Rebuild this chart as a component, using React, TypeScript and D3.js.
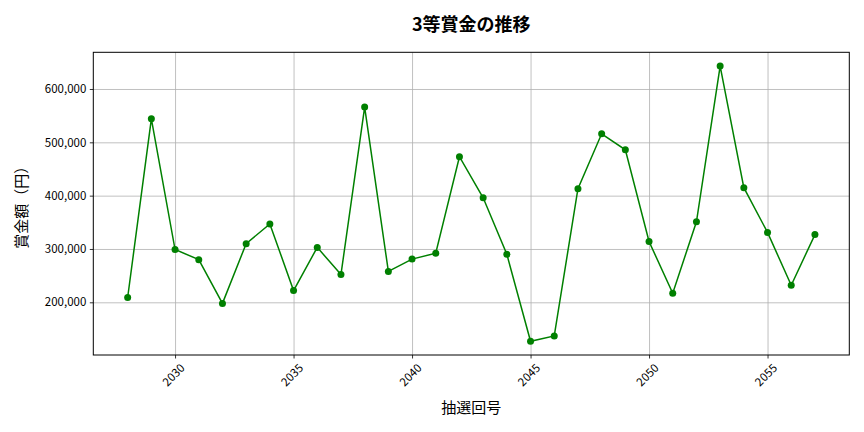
import * as d3 from "d3";
import {useEffect, useRef} from "react";

// draw numbers (抽選回号) and 3rd prize amounts (円)
const drawNumbers = [
    2028, 2029, 2030, 2031, 2032, 2033, 2034, 2035, 2036, 2037,
    2038, 2039, 2040, 2041, 2042, 2043, 2044, 2045, 2046, 2047,
    2048, 2049, 2050, 2051, 2052, 2053, 2054, 2055, 2056, 2057,
];
const prizes = [
    209000, 544000, 299000, 280000, 198000, 310000, 347000, 222000, 303000, 252000,
    566000, 258000, 281000, 292000, 473000, 396000, 290000, 127000, 137000, 413000,
    516000, 486000, 314000, 217000, 351000, 643000, 415000, 331000, 232000, 327000,
];
const xTicks = [2030, 2035, 2040, 2045, 2050, 2055];
const yTicks = [200000, 300000, 400000, 500000, 600000];

const title = "3等賞金の推移";
const xLabel = "抽選回号";
const yLabel = "賞金額（円）";

const FONT = "'Noto Sans CJK JP', 'Noto Sans', sans-serif";

const PrizeChart = ({width, height}: {width: number; height: number}) => {
    const svgRef = useRef(null);

    useEffect(() => {
        if (!svgRef.current) return;
        d3.select(svgRef.current).selectAll("*").remove();

        const margin = {top: 52.3, right: width - 849.3, bottom: height - 355, left: 93.3};
        const innerWidth = width - margin.left - margin.right;
        const innerHeight = height - margin.top - margin.bottom;

        const data = drawNumbers.map((x, i) => ({x, y: prizes[i]}));

        // matplotlib-like 5% padding
        const [xMin, xMax] = d3.extent(drawNumbers) as [number, number];
        const xPad = (xMax - xMin) * 0.05;
        const xScale = d3.scaleLinear().domain([xMin - xPad, xMax + xPad]).range([0, innerWidth]);

        const [yMin, yMax] = d3.extent(prizes) as [number, number];
        const yPad = (yMax - yMin) * 0.05;
        const yScale = d3.scaleLinear().domain([yMin - yPad, yMax + yPad]).range([innerHeight, 0]);

        const svg = d3.select(svgRef.current)
            .attr("width", width)
            .attr("height", height)
            .style("font-family", FONT);

        svg.append("rect").attr("width", width).attr("height", height).attr("fill", "white");

        const g = svg.append("g").attr("transform", `translate(${margin.left},${margin.top})`);

        // grid
        g.append("g")
            .call(d3.axisLeft(yScale).tickValues(yTicks).tickSize(-innerWidth).tickFormat(() => ""))
            .call(s => s.select(".domain").remove())
            .selectAll("line").attr("stroke", "#b0b0b0").attr("stroke-width", 0.8);
        g.append("g")
            .attr("transform", `translate(0,${innerHeight})`)
            .call(d3.axisBottom(xScale).tickValues(xTicks).tickSize(-innerHeight).tickFormat(() => ""))
            .call(s => s.select(".domain").remove())
            .selectAll("line").attr("stroke", "#b0b0b0").attr("stroke-width", 0.8);

        // axes
        const yAxis = g.append("g")
            .call(d3.axisLeft(yScale).tickValues(yTicks).tickSize(3.5).tickPadding(3.5)
                .tickFormat(d => d3.format(",")(d as number)));
        yAxis.selectAll("text").attr("font-size", 11.5).attr("fill", "#000").style("font-family", FONT);
        yAxis.selectAll("line").attr("stroke", "#000").attr("stroke-width", 0.8);
        yAxis.select(".domain").remove();

        const xAxis = g.append("g")
            .attr("transform", `translate(0,${innerHeight})`)
            .call(d3.axisBottom(xScale).tickValues(xTicks).tickSize(3.5).tickFormat(d3.format("d")));
        xAxis.selectAll("line").attr("stroke", "#000").attr("stroke-width", 0.8);
        xAxis.select(".domain").remove();
        xAxis.selectAll("text")
            .attr("font-size", 11.5)
            .attr("fill", "#000")
            .style("font-family", FONT)
            .attr("y", 0)
            .attr("dy", "0.35em")
            .attr("text-anchor", "middle")
            .attr("transform", "translate(-2,20) rotate(-45)");

        // frame
        g.append("rect")
            .attr("width", innerWidth)
            .attr("height", innerHeight)
            .attr("fill", "none")
            .attr("stroke", "#000")
            .attr("stroke-width", 1);

        // line
        const line = d3.line<{x: number; y: number}>()
            .x(d => xScale(d.x))
            .y(d => yScale(d.y));
        g.append("path")
            .datum(data)
            .attr("fill", "none")
            .attr("stroke", "green")
            .attr("stroke-width", 1.5)
            .attr("d", line);

        g.selectAll(".mark")
            .data(data)
            .enter()
            .append("circle")
            .attr("class", "mark")
            .attr("cx", d => xScale(d.x))
            .attr("cy", d => yScale(d.y))
            .attr("r", 3.5)
            .attr("fill", "green");

        // labels
        svg.append("text")
            .attr("x", margin.left + innerWidth / 2)
            .attr("y", 31)
            .attr("text-anchor", "middle")
            .attr("font-size", 18)
            .attr("font-weight", "bold")
            .text(title);

        svg.append("text")
            .attr("x", margin.left + innerWidth / 2)
            .attr("y", 413)
            .attr("text-anchor", "middle")
            .attr("font-size", 15)
            .text(xLabel);

        svg.append("text")
            .attr("transform", `translate(27,${margin.top + innerHeight / 2}) rotate(-90)`)
            .attr("text-anchor", "middle")
            .attr("font-size", 15)
            .text(yLabel);
    }, [width, height]);

    return <svg ref={svgRef} style={{display: "block"}}></svg>;
};

export default function App() {
    return (
        <div style={{margin: -8}}>
            <PrizeChart width={864} height={432}/>
        </div>
    );
}
